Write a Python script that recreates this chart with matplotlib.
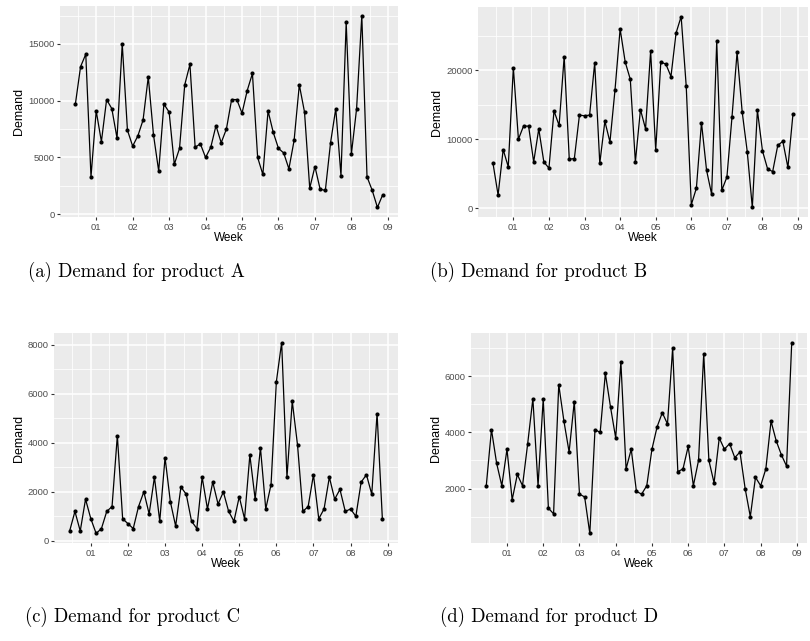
import matplotlib
matplotlib.use("Agg")
import matplotlib.pyplot as plt
import numpy as np

# Daily demand over the observation period (one value per day)
demand_a = [9700, 13000, 14100, 3300, 9100, 6400, 10100, 9300, 6700, 15000,
            7400, 6000, 6900, 8300, 12100, 7000, 3800, 9700, 9000, 4400,
            5800, 11400, 13200, 5900, 6200, 5000, 5900, 7800, 6300, 7500,
            10100, 10100, 8900, 10900, 12400, 5000, 3500, 9100, 7200, 5800,
            5400, 4000, 6500, 11400, 9000, 2300, 4200, 2200, 2100, 6300,
            9300, 3400, 16900, 5300, 9300, 17500, 3300, 2100, 600, 1700]
demand_b = [6500, 1900, 8500, 6000, 20400, 10000, 11900, 11900, 6700, 11500,
            6700, 5800, 14100, 12000, 22000, 7100, 7200, 13500, 13400, 13500,
            21100, 6500, 12600, 9600, 17200, 26000, 21200, 18700, 6700, 14300,
            11500, 22800, 8400, 21200, 20900, 19100, 25400, 27800, 17700, 500,
            2900, 12400, 5500, 2000, 24200, 2600, 4500, 13200, 22600, 14000,
            8200, 100, 14200, 8300, 5700, 5300, 9100, 9700, 5900, 13700]
demand_c = [400, 1200, 400, 1700, 900, 300, 500, 1200, 1400, 4300,
            900, 700, 500, 1400, 2000, 1100, 2600, 800, 3400, 1600,
            600, 2200, 1900, 800, 500, 2600, 1300, 2400, 1500, 2000,
            1200, 800, 1800, 900, 3500, 1700, 3800, 1300, 2300, 6500,
            8100, 2600, 5700, 3900, 1200, 1400, 2700, 900, 1300, 2600,
            1700, 2100, 1200, 1300, 1000, 2400, 2700, 1900, 5200, 900]
demand_d = [2100, 4100, 2900, 2100, 3400, 1600, 2500, 2100, 3600, 5200,
            2100, 5200, 1300, 1100, 5700, 4400, 3300, 5100, 1800, 1700,
            400, 4100, 4000, 6100, 4900, 3800, 6500, 2700, 3400, 1900,
            1800, 2100, 3400, 4200, 4700, 4300, 7000, 2600, 2700, 3500,
            2100, 3000, 6800, 3000, 2200, 3800, 3400, 3600, 3100, 3300,
            2000, 1000, 2400, 2100, 2700, 4400, 3700, 3200, 2800, 7200]

week_labels = ["01", "02", "03", "04", "05", "06", "07", "08", "09"]
first_week_day = 4  # day index where week 01 begins

captions = ["(a) Demand for product A", "(b) Demand for product B",
            "(c) Demand for product C", "(d) Demand for product D"]

y_breaks = [
    [0, 5000, 10000, 15000],
    [0, 10000, 20000],
    [0, 2000, 4000, 6000, 8000],
    [2000, 4000, 6000],
]

W, H = 810, 641
# panel rectangles in pixels: left, top, right, bottom
panels = [
    (60, 6, 398, 217),
    (478, 7, 808, 217),
    (54, 333, 398, 543),
    (471, 333, 807, 543),
]
caption_pos = [(136, 272), (539, 272), (133, 617), (549, 617)]
series = [demand_a, demand_b, demand_c, demand_d]

fig = plt.figure(figsize=(W / 100, H / 100), dpi=100)
fig.patch.set_facecolor("white")

for vals, (l, t, r, b), breaks, cap, (cx, cy) in zip(series, panels, y_breaks,
                                                      captions, caption_pos):
    ax = fig.add_axes([l / W, 1 - b / H, (r - l) / W, (b - t) / H])
    ax.set_facecolor("#EBEBEB")
    for s in ax.spines.values():
        s.set_visible(False)

    days = np.arange(len(vals))
    vals = np.asarray(vals, dtype=float)

    # ggplot-style 5% expansion
    xr = days.max() - days.min()
    yr = vals.max() - vals.min()

    xt = [first_week_day + 7 * i for i in range(len(week_labels))]
    ax.set_xticks(xt)
    ax.set_xticklabels(week_labels)
    ax.set_xticks([x - 3.5 for x in xt] + [xt[-1] + 3.5], minor=True)
    ax.set_yticks(breaks)
    ax.set_yticklabels([str(v) for v in breaks])
    step = breaks[1] - breaks[0]
    ax.set_yticks([v - step / 2 for v in breaks] + [breaks[-1] + step / 2],
                  minor=True)
    ax.set_xlim(days.min() - 0.05 * xr, days.max() + 0.05 * xr)
    ax.set_ylim(vals.min() - 0.05 * yr, vals.max() + 0.05 * yr)

    ax.grid(which="major", color="white", linewidth=1.1)
    ax.grid(which="minor", color="white", linewidth=0.55)
    ax.set_axisbelow(True)
    ax.tick_params(which="major", length=2.5, width=0.8, color="#333333",
                   labelsize=6.8, labelcolor="#4D4D4D", pad=1.5)
    ax.tick_params(which="minor", length=0)

    ax.plot(days, vals, color="black", linewidth=0.9, marker="o",
            markersize=3.0, markerfacecolor="black", markeredgewidth=0)

    ax.set_xlabel("Week", fontsize=8.5, labelpad=0, family="Liberation Sans")
    ax.set_ylabel("Demand", fontsize=9, labelpad=2, family="Liberation Sans")
    for lab in ax.get_xticklabels() + ax.get_yticklabels():
        lab.set_family("Liberation Sans")

    fig.text(cx / W, 1 - cy / H, cap, fontsize=13.5, family="cmr10",
             ha="center", va="center")

fig.savefig("out.png", dpi=100)
